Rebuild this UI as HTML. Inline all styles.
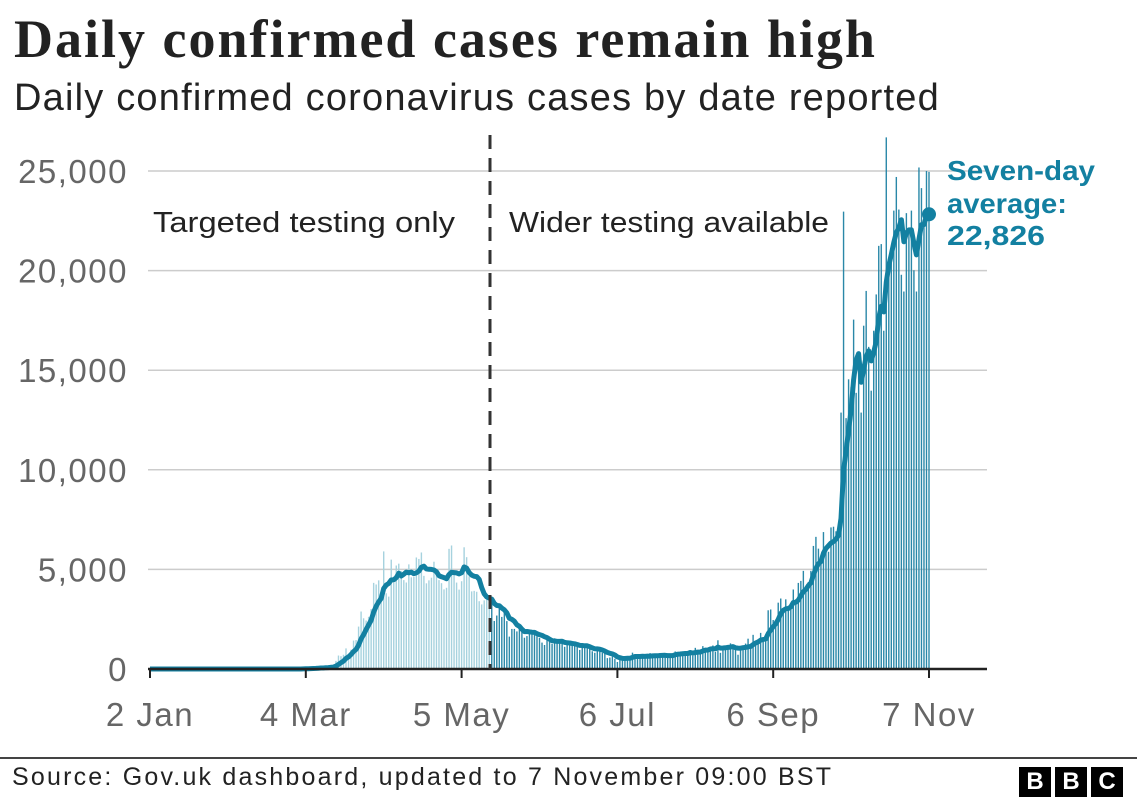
<!DOCTYPE html>
<html><head><meta charset="utf-8">
<style>
body{margin:0;width:1137px;height:800px;background:#fff;overflow:hidden;font-family:"Liberation Sans",sans-serif;}
#title{position:absolute;left:14px;top:8px;font:bold 54px "Liberation Serif",serif;color:#222;white-space:nowrap;letter-spacing:2px;}
#sub{position:absolute;left:14px;top:77px;font-size:38px;color:#222;white-space:nowrap;letter-spacing:1.2px;}
svg{position:absolute;left:0;top:0;}
#src{position:absolute;left:12px;top:763px;font-size:25px;color:#222;letter-spacing:2.2px;white-space:nowrap;}
#rule{position:absolute;left:0;top:757px;width:1137px;height:2px;background:#444;}
.b{position:absolute;top:767px;width:32px;height:30px;background:#000;color:#fff;font:bold 24px "Liberation Sans",sans-serif;text-align:center;line-height:30px;}
</style></head><body>
<div id="title">Daily confirmed cases remain high</div>
<div id="sub">Daily confirmed coronavirus cases by date reported</div>
<svg id="chart" width="1137" height="760"></svg>
<div id="rule"></div>
<div id="src">Source: Gov.uk dashboard, updated to 7 November 09:00 BST</div>
<div class="b" style="left:1019px">B</div>
<div class="b" style="left:1055px">B</div>
<div class="b" style="left:1091px">C</div>
<script>
const yTicks=[0,5000,10000,15000,20000,25000];
const yTickLabels=["0","5,000","10,000","15,000","20,000","25,000"];
const xTickDays=[0,62,124,186,248,310];
const xTickLabels=["2 Jan","4 Mar","5 May","6 Jul","6 Sep","7 Nov"];
const splitDay=136;
const latestAverage=22826;
const daily=[
0,0,0,0,0,0,0,0,0,0,0,0,0,0,0,0,0,0,0,0,0,0,0,0,0,0,0,0,0,0,
0,0,0,0,0,0,0,0,0,0,0,0,0,0,0,0,0,0,0,0,0,0,0,0,0,0,0,0,0,
12,4,11,34,29,48,45,46,67,65,50,152,83,134,117,407,676,643,714,1035,665,967,1427,1452,2129,2885,2546,2433,2619,3009,4324,
4244,4450,3735,5903,3802,3634,5491,4344,5195,5288,4913,4463,4342,5252,4603,4617,5599,5525,5850,4676,4301,4451,4583,5386,4913,4463,4309,3996,4076,6032,
6201,4806,4339,3985,4406,6111,5614,4649,3896,3923,3877,3403,3242,3446,3560,3451,3534,2412,2684,3142,2615,2959,2405,1625,2012,2013,1887,2095,1936,1570,1653,
1871,1936,1805,1650,1557,1326,1205,1541,1387,1266,1541,1425,1346,1279,1115,1218,1221,1346,1317,1118,958,1089,1118,1221,1006,890,814,918,1006,814,
829,546,576,624,516,352,530,581,512,651,642,820,650,530,598,560,640,726,800,760,580,590,640,700,760,685,747,580,880,846,763,
880,743,755,938,670,1062,892,871,1148,1062,950,1040,1182,860,1441,812,1089,1009,1182,1288,1033,1040,715,1048,1184,1276,1522,1108,1715,1295,1406,
1813,1508,1735,2948,2988,2460,2420,3330,3539,2919,3497,3105,3000,3991,3395,4322,4422,4926,3899,4368,4926,6178,6634,6042,5693,6874,6041,5883,7108,7143,
6914,6968,12872,22961,12594,14542,14162,17540,13864,15166,12872,17234,18980,16171,13972,16982,18804,21242,21331,16982,26688,19724,20890,23012,24701,23065,19790,18950,22885,21915,23012,
20018,18950,25177,24141,22950,25000,24957
];
const NS="http://www.w3.org/2000/svg";
const svg=document.getElementById('chart');
const X0=150,X1=929,Y0=669,Y1=171;
const x=d=>X0+(X1-X0)*d/310;
const y=v=>Y0-(Y0-Y1)*v/25000;
function mk(t,a){const e=document.createElementNS(NS,t);for(const k in a)e.setAttribute(k,a[k]);svg.appendChild(e);return e;}
yTicks.forEach((t,i)=>{
 if(t>0){const g=mk('line',{x1:148,x2:987,y1:y(t),y2:y(t),stroke:'#ccc','stroke-width':1.5});
 
 }
 const l=mk('text',{x:128,y:y(t)+12,'text-anchor':'end','font-size':33,fill:'#666','letter-spacing':1.5,'font-family':'Liberation Sans, sans-serif'});
 l.textContent=yTickLabels[i];
 
 
});
daily.forEach((v,d)=>{
 if(v<=0)return;
 const r=mk('rect',{x:x(d)-0.7,y:y(v),width:1.4,height:Y0-y(v),fill:d<splitDay?'#a6d2de':'#2a88a8'});
 
 
});
let pts=[];
for(let d=0;d<daily.length;d++){let s=0,n=0;for(let k=Math.max(0,d-6);k<=d;k++){s+=daily[k];n++;}pts.push(x(d).toFixed(1)+','+y(s/n).toFixed(1));}
const ln=mk('polyline',{points:pts.join(' '),fill:'none',stroke:'#1380a1','stroke-width':5,'stroke-linejoin':'round'});


const dot=mk('circle',{cx:x(310),cy:y(latestAverage),r:7,fill:'#1380a1'});


const ax=mk('line',{x1:148,x2:987,y1:Y0,y2:Y0,stroke:'#222','stroke-width':2.5});


xTickDays.forEach((d,i)=>{
 const t=mk('line',{x1:x(d),x2:x(d),y1:Y0,y2:Y0+9,stroke:'#222','stroke-width':2});
 
 
 const l=mk('text',{x:x(d),y:726,'text-anchor':'middle','font-size':33,fill:'#666','letter-spacing':1.5,'font-family':'Liberation Sans, sans-serif'});
 l.textContent=xTickLabels[i];
 
 
});
const dl=mk('line',{x1:490,x2:490,y1:135,y2:669,stroke:'#333','stroke-width':3,'stroke-dasharray':'14,9'});


function txt(s,xx,yy,o,name){const t=mk('text',Object.assign({x:xx,y:yy,'font-family':'Liberation Sans, sans-serif','font-size':29,fill:'#222'},o||{}));t.textContent=s;
 
 return t;}
txt('Targeted testing only',153,232,{textLength:302,lengthAdjust:'spacingAndGlyphs'},'annotation-targeted');
txt('Wider testing available',509,232,{textLength:320,lengthAdjust:'spacingAndGlyphs'},'annotation-wider');
const bo={fill:'#1380a1','font-weight':'bold','font-size':28};
txt('Seven-day',947,180,Object.assign({textLength:148,lengthAdjust:'spacingAndGlyphs'},bo),'average-label-line1');
txt('average:',947,213,Object.assign({textLength:120,lengthAdjust:'spacingAndGlyphs'},bo),'average-label-line2');
txt('22,826',947,245,Object.assign({textLength:98,lengthAdjust:'spacingAndGlyphs'},bo),'average-label-value');
</script>
</body></html>
